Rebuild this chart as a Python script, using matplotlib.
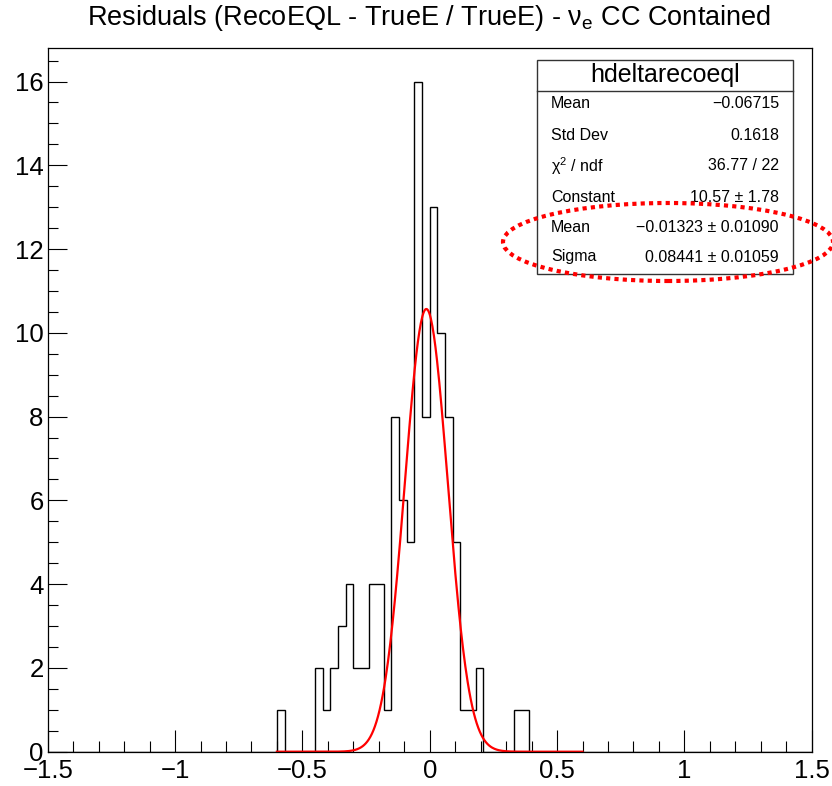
import numpy as np
import matplotlib.pyplot as plt
from matplotlib.patches import Rectangle, Ellipse

plt.rcParams['font.family'] = ['Liberation Sans', 'DejaVu Sans']
plt.rcParams['mathtext.fontset'] = 'custom'
plt.rcParams['mathtext.rm'] = 'Liberation Sans'
plt.rcParams['mathtext.it'] = 'Liberation Sans:italic'

# Histogram binning (100 bins from -1.5 to 1.5)
x_lo, x_hi, n_bins = -1.5, 1.5, 100
first_bin = 30  # bin starting at -0.6
# Counts, bins from -0.6 to 0.39
counts = [1, 0, 0, 0, 0, 2, 1, 2, 3, 4, 2, 2, 4, 4, 1, 8, 6, 5, 16, 8,
          13, 10, 8, 5, 1, 1, 2, 0, 0, 0, 0, 1, 1]

# Gaussian fit parameters from the stats box
fit_const, fit_mean, fit_sigma = 10.57, -0.01323, 0.08441
fit_range = (-0.6, 0.6)

stat_labels = ['Mean', 'Std Dev', r'$\mathrm{\chi}^{2}$ / ndf', 'Constant', 'Mean', 'Sigma']
stat_values = ['\u22120.06715', '0.1618', '36.77 / 22', '10.57 \u00b1 1.78',
               '\u22120.01323 \u00b1 0.01090', '0.08441 \u00b1 0.01059']

W, H = 832, 786
fig = plt.figure(figsize=(W / 100, H / 100), dpi=100)
ax = fig.add_axes([47.7 / W, 1 - 751.7 / H, 764 / W, 703.7 / H])

edges = np.linspace(x_lo, x_hi, n_bins + 1)
full = np.zeros(n_bins)
full[first_bin:first_bin + len(counts)] = counts
ax.stairs(full, edges, color='black', linewidth=1.0)

xf = np.linspace(fit_range[0], fit_range[1], 400)
yf = fit_const * np.exp(-0.5 * ((xf - fit_mean) / fit_sigma) ** 2)
ax.plot(xf, yf, color='#ff0000', linewidth=1.6)

ax.set_xlim(x_lo, x_hi)
ax.set_ylim(0, 16.8)
ax.set_xticks(np.arange(-1.5, 1.51, 0.5))
ax.set_xticklabels(['\u22121.5', '\u22121', '\u22120.5', '0', '0.5', '1', '1.5'])
ax.set_xticks(np.arange(-1.5, 1.51, 0.1), minor=True)
ax.set_yticks(np.arange(0, 17, 2))
ax.set_yticks(np.arange(0, 16.8, 0.5), minor=True)
ax.tick_params(axis='x', which='major', direction='in', length=16, width=0.8, labelsize=18.5, pad=5)
ax.tick_params(axis='x', which='minor', direction='in', length=8, width=0.8)
ax.tick_params(axis='y', which='major', direction='in', length=14, width=0.8, labelsize=18.5, pad=3)
ax.tick_params(axis='y', which='minor', direction='in', length=7, width=0.8)
for s in ax.spines.values():
    s.set_linewidth(0.9)

fig.text(429 / W, 1 - 18 / H, r'Residuals (RecoEQL - TrueE / TrueE) - $\mathrm{\nu_{e}}$ CC Contained',
         ha='center', va='center', fontsize=19.5)

# Stats box
bx0, bx1, by0, by1, bhead = 537, 793, 60, 274, 91
fig.patches.append(Rectangle((bx0 / W, 1 - by1 / H), (bx1 - bx0) / W, (by1 - by0) / H,
                             transform=fig.transFigure, facecolor='white',
                             edgecolor='#333333', linewidth=1.0, zorder=5))
fig.add_artist(plt.Line2D([bx0 / W, bx1 / W], [1 - bhead / H, 1 - bhead / H],
                          transform=fig.transFigure, color='#333333', linewidth=1.0, zorder=6))
fig.text((bx0 + bx1) / 2 / W, 1 - 75 / H, 'hdeltarecoeql', ha='center', va='center',
         fontsize=18, zorder=7)
row_y = [104, 135, 166, 197, 228, 257]
for lab, val, yy in zip(stat_labels, stat_values, row_y):
    fig.text(551 / W, 1 - yy / H, lab, ha='left', va='center', fontsize=11.5, zorder=7)
    fig.text(779 / W, 1 - yy / H, val, ha='right', va='center', fontsize=11.5, zorder=7)

# Red dotted ellipse highlighting the fitted mean and sigma
fig.patches.append(Ellipse((668 / W, 1 - 242 / H), 330 / W, 78 / H,
                           transform=fig.transFigure, fill=False, edgecolor='#ff0000',
                           linewidth=3, linestyle=(0, (1, 1)), zorder=8))

fig.savefig('out.png', dpi=100)
